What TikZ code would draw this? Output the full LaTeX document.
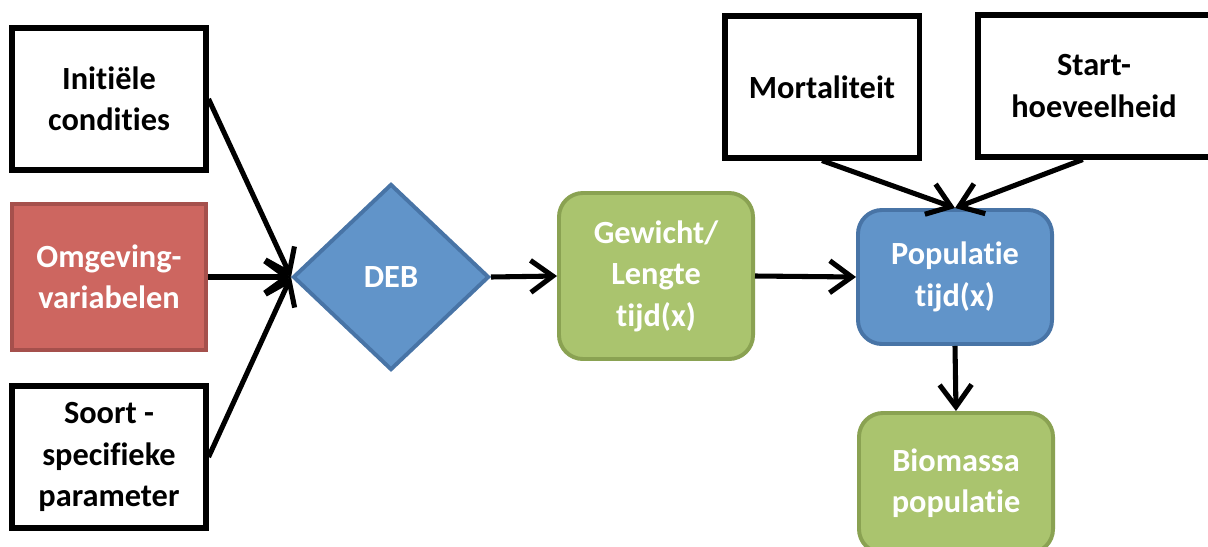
\documentclass[tikz,border=0pt]{standalone}
\usepackage{fontspec}
\setmainfont{Carlito}[Ligatures=NoCommon]
\usepackage{xcolor}
\usepackage{tikz}
\usetikzlibrary{shapes.geometric,arrows.meta}

\definecolor{rood}{HTML}{CD6660}
\definecolor{roodrand}{HTML}{A5504C}
\definecolor{groen}{HTML}{AAC46E}
\definecolor{groenrand}{HTML}{8AA252}
\definecolor{blauw}{HTML}{6194C9}
\definecolor{blauwrand}{HTML}{4874A6}

\begin{document}
\begin{tikzpicture}[x=0.025cm,y=-0.025cm,
  tekst/.style={font=\fontsize{23}{29.5}\selectfont\bfseries, align=center, inner sep=0pt},
  wit/.style={tekst, draw=black, line width=3.6pt, fill=white, minimum width=4.85cm, minimum height=3.55cm},
  kleur/.style={tekst, text=white, line width=2.8pt, minimum width=4.85cm},
  pijl/.style={line width=3.6pt, -{Straight Barb[length=5.5mm,width=8mm]}}]
\useasboundingbox (0,0) rectangle (1208,546);
\clip (0,0) rectangle (1208,546);

\node[wit] (init) at (109,99) {Initiële\\condities};
\node[kleur, fill=rood, draw=roodrand, minimum height=3.65cm] (omg) at (109,277) {Omgeving-\\variabelen};
\node[wit] (soort) at (109,457) {Soort -\\specifieke\\parameter};

\node[tekst, text=white, shape=diamond, fill=blauw, draw=blauwrand, line width=2.8pt,
  minimum width=4.9cm, minimum height=4.65cm] (deb) at (391,277) {DEB};

\node[kleur, fill=groen, draw=groenrand, rounded corners=0.6cm, minimum height=4.15cm] (gew) at (656,276) {Gewicht/\\Lengte\\tijd(x)};
\node[kleur, fill=blauw, draw=blauwrand, rounded corners=0.6cm, minimum height=3.35cm] (pop) at (955,277) {Populatie\\tijd(x)};
\node[kleur, fill=groen, draw=groenrand, rounded corners=0.6cm, minimum height=3.5cm] (bio) at (956,483) {Biomassa\\populatie};

\node[wit] (mort) at (822,87) {Mortaliteit};
\node[wit, minimum width=5.8cm] (start) at (1094,86) {Start-\\hoeveelheid};

% pijlen
\draw[pijl] (init.east) -- (deb.west);
\draw[pijl] (omg.east) -- (deb.west);
\draw[pijl] (soort.east) -- (deb.west);
\draw[pijl] (deb.east) -- (gew.west);
\draw[pijl] (gew.east) -- (pop.west);
\draw[pijl] (mort.south) -- (pop.north);
\draw[pijl] ([xshift=-0.28cm]start.south) -- (pop.north);
\draw[pijl] (pop.south) -- (bio.north);
\end{tikzpicture}
\end{document}
